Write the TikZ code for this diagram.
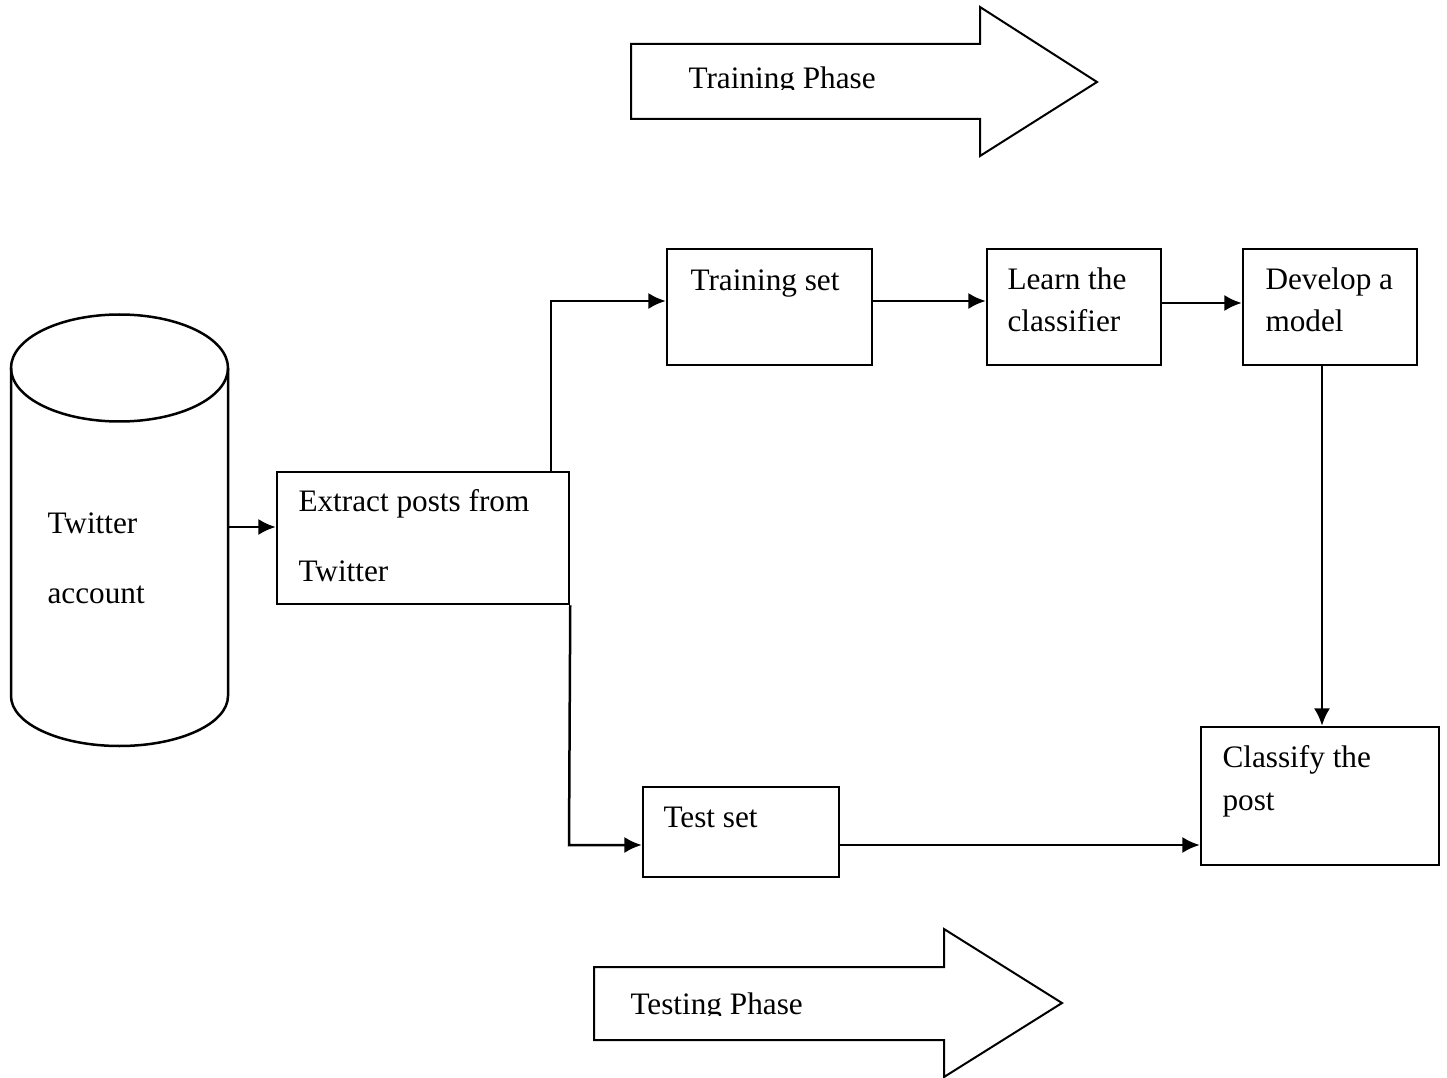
\documentclass[tikz,border=0pt]{standalone}
\usepackage{fontspec}
\setmainfont{Liberation Serif}
\usetikzlibrary{arrows.meta,fit}
\begin{document}
\begin{tikzpicture}[x=0.4pt,y=-0.4pt,
  box/.style={draw,line width=1pt,inner sep=0pt,fill=white},
  txt/.style={anchor=base west,inner sep=0pt,font=\fontsize{12.5}{15}\selectfont},
  arr/.style={line width=1pt,-{Latex[length=7pt,width=6.5pt]}},
  blk/.style={draw,line width=0.8pt,fill=white,line join=miter}]
\useasboundingbox (0,0) rectangle (1447,1078);

% Phase arrows
\draw[blk] (631,44) -- (980,44) -- (980,7) -- (1097,82) -- (980,156) -- (980,119) -- (631,119) -- cycle;
\begin{scope}
\clip (631,44) rectangle (980,90);
\node[txt] (trainphase) at (688,89) {Training Phase};
\end{scope}
\draw[blk] (594,967) -- (944,967) -- (944,929) -- (1062,1003) -- (944,1077) -- (944,1040) -- (594,1040) -- cycle;
\begin{scope}
\clip (594,967) rectangle (944,1015);
\node[txt] (testphase) at (630,1014) {Testing Phase};
\end{scope}

% Cylinder
\draw[line width=1pt] (11,368) -- (11,696) arc[start angle=180,end angle=0,x radius=108.5,y radius=50] -- (228,368);
\draw[line width=1pt] (119.5,368) ellipse[x radius=108.5,y radius=53.5];
\node[txt] (tw1) at (47,534) {Twitter};
\node[txt] (tw2) at (47,603) {account};
\coordinate (cylR) at (228,527);

% Boxes
\node[box,fit={(277,472) (569,604)}] (extract) {};
\node[txt] (ex1) at (298,512) {Extract posts from};
\node[txt] (ex2) at (298,581) {Twitter};

\node[box,fit={(667,249) (872,365)}] (train) {};
\node[txt] (tr1) at (690,291) {Training set};

\node[box,fit={(987,249) (1161,365)}] (learn) {};
\node[txt] (le1) at (1007,290) {Learn the};
\node[txt] (le2) at (1007,332) {classifier};

\node[box,fit={(1243,249) (1417,365)}] (dev) {};
\node[txt] (de1) at (1265,290) {Develop a};
\node[txt] (de2) at (1265,332) {model};

\node[box,fit={(1201,727) (1439,865)}] (cls) {};
\node[txt] (cl1) at (1222,767) {Classify the};
\node[txt] (cl2) at (1222,810) {post};

\node[box,fit={(643,787) (839,877)}] (test) {};
\node[txt] (te1) at (663,827) {Test set};

% Connectors
\draw[arr] (cylR) -- (cylR -| extract.west);
\coordinate (up) at (551,301);
\draw[arr] (extract.north -| up) -- (up) -- (up -| train.west);
\coordinate (r1) at (0,301);
\draw[arr] (r1 -| train.east) -- (r1 -| learn.west);
\coordinate (r2) at (0,303);
\draw[arr] (r2 -| learn.east) -- (r2 -| dev.west);
\coordinate (vd) at (1322,0);
\draw[arr] (dev.south -| vd) -- (cls.north -| vd);
\coordinate (dn) at (569,845);
\draw[arr] (extract.south east) -- (dn) -- (dn -| test.west);
\draw[arr] (dn -| test.east) -- (dn -| cls.west);
\end{tikzpicture}
\end{document}
